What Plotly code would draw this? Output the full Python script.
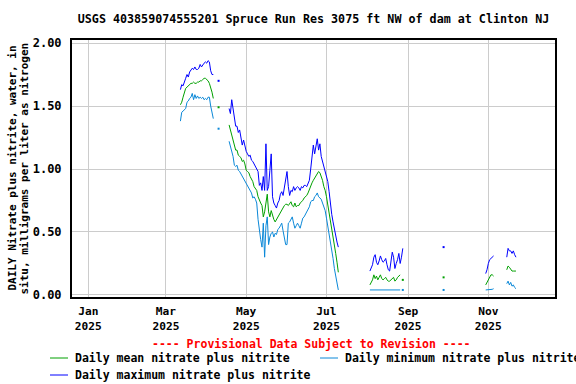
import pandas as pd
import plotly.graph_objects as go

# ---------------- data (mg/L as N) ----------------
title_text = "USGS 403859074555201 Spruce Run Res 3075 ft NW of dam at Clinton NJ"
ytitle_line1 = "DAILY Nitrate plus nitrite, water, in"
ytitle_line2 = "situ, milligrams per liter as nitrogen"
provisional_text = "---- Provisional Data Subject to Revision ----"
name_mean = "Daily mean nitrate plus nitrite"
name_min = "Daily minimum nitrate plus nitrite"
name_max = "Daily maximum nitrate plus nitrite"

tick_dates = ["2025-01-01", "2025-03-01", "2025-05-01", "2025-07-01", "2025-09-01", "2025-11-01"]
tick_labels = ["Jan<br>2025", "Mar<br>2025", "May<br>2025", "Jul<br>2025", "Sep<br>2025", "Nov<br>2025"]
y_ticks = [0.0, 0.5, 1.0, 1.5, 2.0]

# segment 1: Mar 12 - Apr 6
s1_start = "2025-03-12"
s1_max = [1.63, 1.67, 1.66, 1.70, 1.72, 1.75, 1.73, 1.77, 1.79, 1.80, 1.79, 1.81, 1.79,
          1.79, 1.80, 1.83, 1.81, 1.83, 1.84, 1.85, 1.84, 1.86, 1.85, 1.78, 1.75, 1.75]
s1_mean = [1.51, 1.53, 1.57, 1.61, 1.64, 1.65, 1.66, 1.67, 1.68, 1.68, 1.69, 1.68, 1.68,
           1.69, 1.69, 1.70, 1.70, 1.71, 1.72, 1.72, 1.71, 1.70, 1.68, 1.65, 1.61, 1.56]
s1_min = [1.38, 1.45, 1.46, 1.47, 1.48, 1.53, 1.54, 1.56, 1.57, 1.60, 1.55, 1.59, 1.56,
          1.58, 1.56, 1.57, 1.56, 1.57, 1.55, 1.56, 1.55, 1.57, 1.57, 1.50, 1.44, 1.40]

# segment 2: single day Apr 10
s2_start = "2025-04-10"
s2_max = [1.70]
s2_mean = [1.49]
s2_min = [1.32]

# segment 3: Apr 18 - Jul 10
s3_start = "2025-04-18"
s3_max = [1.48, 1.44, 1.55, 1.47, 1.40, 1.34, 1.34, 1.29, 1.31, 1.23,
          1.19, 1.23, 1.18, 1.14, 1.12, 1.10, 1.11, 1.07, 1.06, 1.04,
          1.01, 0.99, 0.98, 0.87, 0.89, 0.83, 0.94, 0.83, 1.20, 0.83,
          0.86, 0.99, 1.12, 0.78, 0.73, 0.71, 0.69, 0.73, 0.75, 0.80,
          0.82, 0.79, 0.86, 0.93, 0.98, 0.86, 0.79, 0.83, 0.82, 0.86,
          0.83, 0.85, 0.86, 0.85, 0.83, 0.86, 0.85, 0.87, 0.87, 0.86,
          0.88, 0.91, 1.00, 1.12, 1.19, 1.12, 1.20, 1.24, 1.15, 1.20,
          1.10, 1.06, 1.02, 0.99, 0.96, 0.90, 0.82, 0.72, 0.64, 0.58,
          0.52, 0.47, 0.42, 0.38]
s3_mean = [1.35, 1.31, 1.26, 1.23, 1.19, 1.15, 1.15, 1.11, 1.10, 1.09,
           1.06, 1.07, 1.04, 0.99, 0.98, 0.97, 0.94, 0.92, 0.90, 0.86,
           0.84, 0.83, 0.78, 0.75, 0.73, 0.71, 0.62, 0.66, 0.75, 0.80,
           0.66, 0.62, 0.67, 0.63, 0.60, 0.58, 0.60, 0.61, 0.63, 0.65,
           0.67, 0.69, 0.71, 0.72, 0.72, 0.71, 0.73, 0.74, 0.71, 0.70,
           0.73, 0.70, 0.71, 0.71, 0.73, 0.74, 0.75, 0.77, 0.78, 0.79,
           0.81, 0.84, 0.87, 0.89, 0.91, 0.93, 0.95, 0.97, 0.98, 0.97,
           0.94, 0.91, 0.86, 0.83, 0.78, 0.72, 0.66, 0.59, 0.53, 0.47,
           0.40, 0.33, 0.26, 0.18]
s3_min = [1.22, 1.18, 1.15, 1.10, 1.03, 1.02, 1.03, 0.99, 0.98, 0.96,
          0.95, 0.93, 0.91, 0.89, 0.86, 0.84, 0.83, 0.81, 0.77, 0.78,
          0.76, 0.73, 0.60, 0.49, 0.44, 0.38, 0.57, 0.30, 0.55, 0.62,
          0.40, 0.46, 0.49, 0.50, 0.46, 0.49, 0.48, 0.52, 0.53, 0.55,
          0.57, 0.51, 0.45, 0.40, 0.40, 0.57, 0.58, 0.60, 0.62, 0.57,
          0.53, 0.55, 0.57, 0.55, 0.53, 0.57, 0.61, 0.62, 0.64, 0.65,
          0.68, 0.70, 0.74, 0.75, 0.75, 0.78, 0.79, 0.81, 0.78, 0.77,
          0.76, 0.73, 0.70, 0.67, 0.61, 0.55, 0.48, 0.42, 0.36, 0.29,
          0.21, 0.14, 0.09, 0.04]

# segment 4: Aug 3 - Aug 28
s4_start = "2025-08-03"
s4_max = [0.19, 0.21, 0.24, 0.30, 0.32, 0.26, 0.24, 0.27, 0.31, 0.28, 0.26, 0.27, 0.29,
          0.24, 0.20, 0.19, 0.28, 0.34, 0.30, 0.21, 0.25, 0.28, 0.33, 0.25, 0.30, 0.37]
s4_mean = [0.08, 0.10, 0.12, 0.16, 0.13, 0.15, 0.12, 0.14, 0.16, 0.13, 0.12, 0.13, 0.14,
           0.12, 0.11, 0.11, 0.12, 0.13, 0.14, 0.11, 0.12, 0.14, 0.15, 0.16, None, 0.12]
s4_min = [0.04, 0.04, 0.04, 0.04, 0.04, 0.04, 0.04, 0.045, 0.04, 0.04, 0.04, 0.045, 0.04,
          0.04, 0.04, 0.04, 0.04, 0.04, 0.04, 0.04, 0.04, 0.04, 0.04, 0.04, None, 0.04]

# segment 5: single day Sep 28
s5_start = "2025-09-28"
s5_max = [0.38]
s5_mean = [0.14]
s5_min = [0.04]

# segment 6: Oct 30 - Nov 5
s6_start = "2025-10-30"
s6_max = [0.17, 0.20, 0.25, 0.28, 0.29, 0.30, 0.31]
s6_mean = [0.08, 0.10, 0.12, 0.15, 0.16, 0.16, 0.15]
s6_min = [0.04, 0.04, 0.04, 0.04, 0.04, 0.045, 0.05]

# segment 7: Nov 15 - Nov 22
s7_start = "2025-11-15"
s7_max = [0.30, 0.37, 0.35, 0.35, 0.33, 0.35, 0.32, 0.30]
s7_mean = [0.20, 0.23, 0.22, 0.20, 0.19, 0.19, 0.19, 0.19]
s7_min = [0.09, 0.11, 0.08, 0.10, 0.07, 0.08, 0.06, 0.05]

starts = [s1_start, s2_start, s3_start, s4_start, s5_start, s6_start, s7_start]
max_segs = [s1_max, s2_max, s3_max, s4_max, s5_max, s6_max, s7_max]
mean_segs = [s1_mean, s2_mean, s3_mean, s4_mean, s5_mean, s6_mean, s7_mean]
min_segs = [s1_min, s2_min, s3_min, s4_min, s5_min, s6_min, s7_min]

col_mean = "#00a000"
col_min = "#0a88d8"
col_max = "#0000ff"
FONT = "DejaVu Sans Mono"


def build(segs):
    xs, ys = [], []
    for st, vals in zip(starts, segs):
        dates = pd.date_range(st, periods=len(vals), freq="D")
        xs.extend(list(dates))
        ys.extend(vals)
        xs.append(dates[-1] + pd.Timedelta(hours=12))
        ys.append(None)
    return xs, ys


def isolated(xs, ys):
    ix, iy = [], []
    for i, v in enumerate(ys):
        if v is None:
            continue
        prev_none = i == 0 or ys[i - 1] is None
        next_none = i == len(ys) - 1 or ys[i + 1] is None
        if prev_none and next_none:
            ix.append(xs[i])
            iy.append(v)
    return ix, iy


fig = go.Figure()
for segs, col, nm in [(min_segs, col_min, name_min), (mean_segs, col_mean, name_mean), (max_segs, col_max, name_max)]:
    xs, ys = build(segs)
    fig.add_trace(go.Scatter(x=xs, y=ys, mode="lines", line=dict(color=col, width=1),
                             connectgaps=False, name=nm, showlegend=False))
    ix, iy = isolated(xs, ys)
    fig.add_trace(go.Scatter(x=ix, y=iy, mode="markers",
                             marker=dict(color=col, size=2, symbol="square", line=dict(width=0)),
                             showlegend=False, hoverinfo="skip"))

fig.update_layout(
    width=576, height=384,
    margin=dict(l=72, r=21, t=40, b=87),
    paper_bgcolor="white", plot_bgcolor="white",
    font=dict(family=FONT, size=11, color="black", weight="bold"),
    showlegend=False,
    title=dict(text=title_text, x=0.5, xref="paper", xanchor="center",
               y=1 - 19 / 384, yref="container", yanchor="middle",
               font=dict(family=FONT, size=11.7, color="black", weight="bold")),
)

fig.update_xaxes(
    type="date",
    range=["2024-12-19 14:40", "2025-12-21 16:00"],
    tickvals=tick_dates, ticktext=tick_labels,
    showgrid=True, gridcolor="#cccccc", gridwidth=1,
    showline=True, linecolor="black", linewidth=2, mirror=True,
    ticks="", ticklabelstandoff=3,
    tickfont=dict(family=FONT, size=11.2, color="black", weight="bold"),
    zeroline=False,
)
fig.update_yaxes(
    range=[-0.016, 2.024],
    tickvals=y_ticks, tickformat=".2f",
    showgrid=True, gridcolor="#cccccc", gridwidth=1,
    showline=True, linecolor="black", linewidth=2, mirror=True,
    ticks="", ticklabelstandoff=6,
    tickfont=dict(family=FONT, size=12, color="black", weight="bold"),
    zeroline=False,
)

pw = 576 - 72 - 21
ph = 384 - 40 - 87


def py(p):
    return (384 - 87 - p) / ph


def pxx(p):
    return (p - 72) / pw


# y-axis title (two rotated lines)
for txt, px in [(ytitle_line1, 12), (ytitle_line2, 24)]:
    fig.add_annotation(text=txt, textangle=-90, xref="paper", yref="paper",
                       x=pxx(px), y=0.5, xanchor="center", yanchor="middle",
                       showarrow=False,
                       font=dict(family=FONT, size=11, color="black", weight="bold"))

# provisional note and legend
fig.add_annotation(text=provisional_text, xref="paper", yref="paper",
                   x=pxx(311), y=py(344), xanchor="center", yanchor="middle", showarrow=False,
                   font=dict(family=FONT, size=11.5, color="#ff0000", weight="bold"))

legend_items = [(name_mean, col_mean, 50, 358), (name_min, col_min, 320, 358), (name_max, col_max, 50, 375)]
for nm, col, lx, ly in legend_items:
    fig.add_shape(type="line", xref="paper", yref="paper",
                  x0=pxx(lx), x1=pxx(lx + 18), y0=py(ly), y1=py(ly),
                  line=dict(color=col, width=1))
    fig.add_annotation(text=nm, xref="paper", yref="paper",
                       x=pxx(lx + 23), y=py(ly), xanchor="left", yanchor="middle", showarrow=False,
                       font=dict(family=FONT, size=11.5, color="black", weight="bold"))

fig.write_html("out.html", config={"displayModeBar": False},
               post_script="document.body.style.margin='0';document.body.style.overflow='hidden';")
